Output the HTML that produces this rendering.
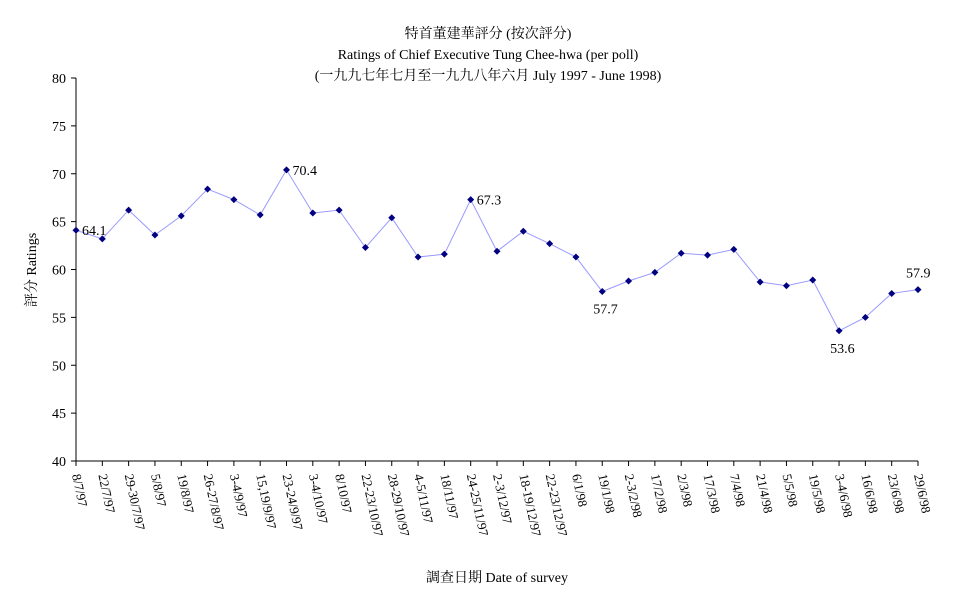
<!DOCTYPE html>
<html><head><meta charset="utf-8"><style>
body{margin:0;background:#fff;}
svg{display:block;font-family:"Liberation Serif","Noto Serif CJK SC","Noto Sans CJK TC",serif;}
</style></head><body>
<svg id="chart" width="977" height="600">
<text x="488" y="38" text-anchor="middle" font-size="14">特首董建華評分 (按次評分)</text>
<text x="488" y="59" text-anchor="middle" font-size="14">Ratings of Chief Executive Tung Chee-hwa (per poll)</text>
<text x="488" y="80" text-anchor="middle" font-size="14">(一九九七年七月至一九九八年六月 July 1997 - June 1998)</text>
<text transform="translate(36,270) rotate(-90)" text-anchor="middle" font-size="14">評分 Ratings</text>
<text x="497" y="582" text-anchor="middle" font-size="14">調查日期 Date of survey</text>
<g id="axes"></g><g id="series"></g>
</svg>
<script>
const categories=["8/7/97","22/7/97","29-30/7/97","5/8/97","19/8/97","26-27/8/97","3-4/9/97","15,19/9/97","23-24/9/97","3-4/10/97","8/10/97","22-23/10/97","28-29/10/97","4-5/11/97","18/11/97","24-25/11/97","2-3/12/97","18-19/12/97","22-23/12/97","6/1/98","19/1/98","2-3/2/98","17/2/98","2/3/98","17/3/98","7/4/98","21/4/98","5/5/98","19/5/98","3-4/6/98","16/6/98","23/6/98","29/6/98"];
const ratings=[64.1,63.2,66.2,63.6,65.6,68.4,67.3,65.7,70.4,65.9,66.2,62.3,65.4,61.3,61.6,67.3,61.9,64.0,62.7,61.3,57.7,58.8,59.7,61.7,61.5,62.1,58.7,58.3,58.9,53.6,55.0,57.5,57.9];
const yTicks=[40,45,50,55,60,65,70,75,80];
const labelled=[0,8,15,20,29,32];
const NS="http://www.w3.org/2000/svg";
const X0=76,X1=918,Y0=461,Y1=78;
const xs=i=>X0+i*(X1-X0)/(categories.length-1);
const ys=v=>Y0-(v-40)/40*(Y0-Y1);
function mk(t,a,p){const e=document.createElementNS(NS,t);for(const k in a)e.setAttribute(k,a[k]);p.appendChild(e);return e;}
const ax=document.getElementById('axes'),se=document.getElementById('series');
let l=mk('line',{x1:X0,y1:Y1,x2:X0,y2:Y0,stroke:'#000'},ax);


l=mk('line',{x1:X0,y1:Y0,x2:X1,y2:Y0,stroke:'#000'},ax);


yTicks.forEach(v=>{const y=ys(v);
mk('line',{x1:X0-5,y1:y,x2:X0,y2:y,stroke:'#000'},ax);
const t=mk('text',{x:X0-10,y:y+5,'text-anchor':'end','font-size':14},ax);t.textContent=v;

});
categories.forEach((c,i)=>{const x=xs(i);
mk('line',{x1:x,y1:Y0,x2:x,y2:Y0+5,stroke:'#000'},ax);
const t=mk('text',{transform:`translate(${x-4},${Y0+14}) rotate(78)`,'font-size':13},ax);t.textContent=c;

});
const p=mk('polyline',{points:ratings.map((v,i)=>xs(i)+','+ys(v)).join(' '),fill:'none',stroke:'#9999ff','stroke-width':1},se);


ratings.forEach((v,i)=>{const x=xs(i),y=ys(v);
const d=mk('polygon',{points:`${x},${y-3.5} ${x+3.5},${y} ${x},${y+3.5} ${x-3.5},${y}`,fill:'#000080'},se);


if(labelled.includes(i)){const low=(i===20||i===29),last=(i===categories.length-1);
let tx=low?x-9:x+6,ty=low?y+22:y+5;
if(last){tx=x-12;ty=y-12;}
const t=mk('text',{x:tx,y:ty,'font-size':14},se);t.textContent=v.toFixed(1);

}});
</script>
</body></html>
